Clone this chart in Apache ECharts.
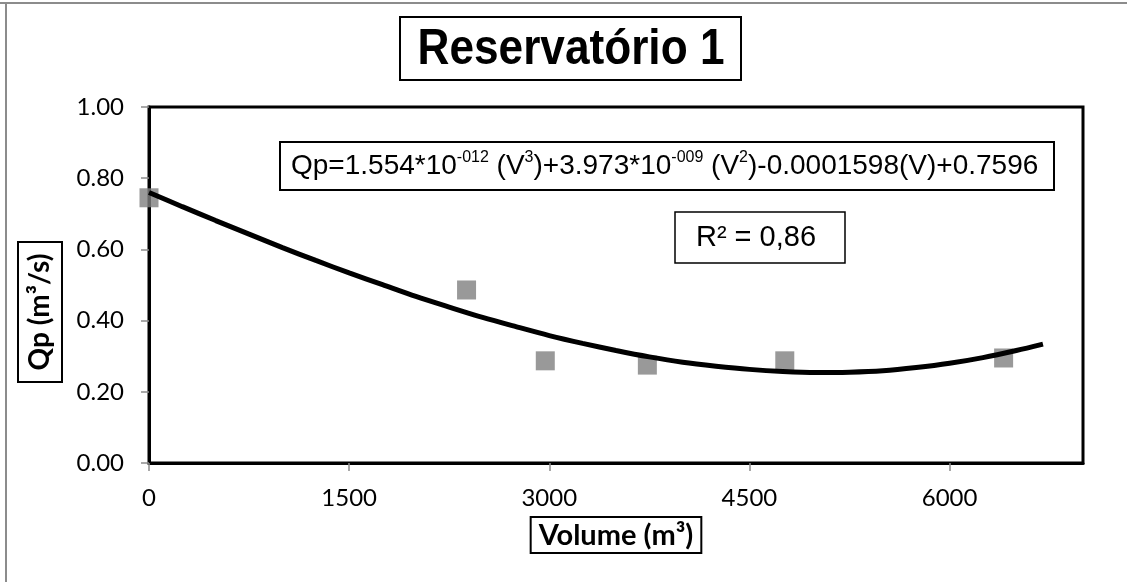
<!DOCTYPE html>
<html>
<head>
<meta charset="utf-8">
<script src="https://cdn.jsdelivr.net/npm/echarts@6/dist/echarts.min.js"></script>
<style>
  html, body { margin: 0; padding: 0; background: #fff; }
  #reservatorio { width: 1127px; height: 582px; }
</style>
</head>
<body>
<div id="reservatorio"></div>
<script>
  // pontos observados (volume em m3, vazao de pico em m3/s)
  var volume = [0, 2380, 2970, 3735, 4765, 6405]
  var qp = [0.745, 0.486, 0.287, 0.275, 0.287, 0.295]

  // linha de tendencia polinomial
  var trendVolume = [0, 250, 500, 750, 1000, 1250, 1500, 1750, 2000, 2250, 2500, 2750, 3000, 3250,
    3500, 3750, 4000, 4250, 4500, 4750, 5000, 5250, 5500, 5750, 6000, 6250, 6500, 6700]
  var trendQp = [0.760, 0.720, 0.681, 0.643, 0.605, 0.569, 0.534, 0.501, 0.468, 0.438, 0.409, 0.383, 0.358, 0.336,
    0.316, 0.298, 0.283, 0.272, 0.263, 0.257, 0.254, 0.255, 0.259, 0.268, 0.280, 0.296, 0.316, 0.334]

  var xTicks = [0, 1500, 3000, 4500, 6000]
  var yTicks = [0.00, 0.20, 0.40, 0.60, 0.80, 1.00]

  var chart = echarts.init(document.getElementById('reservatorio'))

  var pontos = []
  for (var i = 0; i < volume.length; i++) {
    pontos.push([volume[i], qp[i]])
  }
  var tendencia = []
  for (var j = 0; j < trendVolume.length; j++) {
    tendencia.push([trendVolume[j], trendQp[j]])
  }

  var option = {
    animation: false,
    backgroundColor: '#fff',
    grid: {
      left: 149,
      right: 44,
      top: 107,
      bottom: 119,
      show: true,
      borderColor: '#000',
      borderWidth: 3
    },
    xAxis: {
      type: 'value',
      min: xTicks[0],
      max: 7000,
      interval: xTicks[1] - xTicks[0],
      name: 'Volume (m³)',
      nameLocation: 'middle',
      nameGap: 54,
      nameTextStyle: {
        fontFamily: 'Lato',
        fontWeight: 'bold',
        fontSize: 29,
        color: '#000',
        borderColor: '#000',
        borderWidth: 2,
        padding: [4, 8, 3, 8]
      },
      axisLine: { lineStyle: { color: '#000', width: 3 } },
      axisTick: { show: true, length: 8, lineStyle: { color: '#8c8c8c', width: 1.5 } },
      axisLabel: {
        showMaxLabel: false,
        margin: 23,
        fontFamily: 'Lato',
        fontSize: 24,
        color: '#000',
        formatter: function (v) { return String(v) }
      },
      splitLine: { show: false }
    },
    yAxis: {
      type: 'value',
      min: yTicks[0],
      max: yTicks[yTicks.length - 1],
      interval: 0.2,
      axisLine: { show: true, lineStyle: { color: '#000', width: 3 } },
      axisTick: { show: true, length: 8, lineStyle: { color: '#8c8c8c', width: 1.5 } },
      axisLabel: {
        margin: 25,
        fontFamily: 'Lato',
        fontSize: 24,
        color: '#000',
        formatter: function (v) { return v.toFixed(2) }
      },
      splitLine: { show: false }
    },
    series: [{
      name: 'Qp',
      type: 'scatter',
      symbol: 'rect',
      symbolSize: 19,
      itemStyle: { color: '#808080' },
      z: 2,
      data: pontos
    }, {
      name: 'Tendência',
      type: 'line',
      smooth: 0.3,
      showSymbol: false,
      lineStyle: { color: '#000', width: 5 },
      z: 3,
      data: tendencia
    }],
    graphic: [
      // moldura externa do grafico (so topo e esquerda aparecem)
      {
        type: 'line',
        shape: { x1: 0, y1: 3, x2: 1127, y2: 3 },
        style: { stroke: '#8c8c8c', lineWidth: 2 },
        silent: true
      },
      {
        type: 'line',
        shape: { x1: 6, y1: 3, x2: 6, y2: 582 },
        style: { stroke: '#8c8c8c', lineWidth: 2 },
        silent: true
      },
      // titulo
      {
        type: 'rect',
        shape: { x: 400, y: 17, width: 341, height: 63 },
        style: { fill: '#fff', stroke: '#000', lineWidth: 2 }
      },
      {
        type: 'text',
        x: 571,
        y: 50,
        scaleX: 0.94,
        scaleY: 1.08,
        style: {
          text: 'Reservatório 1',
          fontFamily: 'Liberation Sans',
          fontWeight: 'bold',
          fontSize: 47,
          fill: '#000',
          align: 'center',
          verticalAlign: 'middle'
        }
      },
      // titulo do eixo y
      {
        type: 'rect',
        shape: { x: 18, y: 242, width: 44, height: 140 },
        style: { fill: '#fff', stroke: '#000', lineWidth: 2 }
      },
      {
        type: 'text',
        x: 40,
        y: 312,
        rotation: Math.PI / 2,
        style: {
          text: 'Qp (m³/s)',
          fontFamily: 'Lato',
          fontWeight: 'bold',
          fontSize: 28,
          fill: '#000',
          align: 'center',
          verticalAlign: 'middle'
        }
      },
      // equacao da tendencia
      {
        type: 'rect',
        shape: { x: 280, y: 142, width: 774, height: 48 },
        style: { fill: '#fff', stroke: '#000', lineWidth: 2 },
        z: 10
      },
      {
        type: 'text',
        x: 291,
        y: 166,
        z: 11,
        style: {
          text: '{n|Qp=1.554*10}{s|-012}{n| (V}{s|3}{n|)+3.973*10}{s|-009}{n| (V}{s|2}{n|)-0.0001598(V)+0.7596}',
          verticalAlign: 'middle',
          align: 'left',
          rich: {
            n: { fontFamily: 'Liberation Sans', fontSize: 28, color: '#000', lineHeight: 32 },
            s: { fontFamily: 'Liberation Sans', fontSize: 16, color: '#000', verticalAlign: 'top', lineHeight: 18 }
          }
        }
      },
      // coeficiente de determinacao
      {
        type: 'rect',
        shape: { x: 675, y: 212, width: 170, height: 51 },
        style: { fill: '#fff', stroke: '#000', lineWidth: 1.5 },
        z: 10
      },
      {
        type: 'text',
        x: 756,
        y: 238,
        z: 11,
        style: {
          text: 'R² = 0,86',
          fontFamily: 'Liberation Sans',
          fontSize: 29,
          fill: '#000',
          align: 'center',
          verticalAlign: 'middle'
        }
      }
    ]
  }

  chart.setOption(option)
</script>
</body>
</html>
